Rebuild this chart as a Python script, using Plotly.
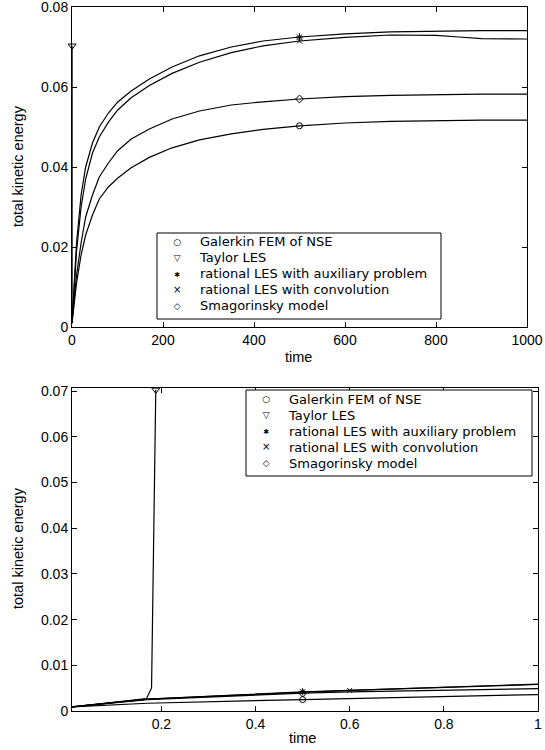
import plotly.graph_objects as go

# ---------------- data: top panel (long time) ----------------
t_top = [0, 5, 10, 20, 30, 45, 60, 80, 100, 130, 170, 220, 280, 350, 420, 500,
         600, 700, 800, 850, 900, 1000]
galerkin_top = [0.001, 0.006, 0.011, 0.018, 0.023, 0.028, 0.0320, 0.0350, 0.0372, 0.0398,
                0.0424, 0.0448, 0.0468, 0.0483, 0.0494, 0.0503, 0.0510, 0.0514, 0.0516,
                0.0517, 0.0517, 0.0517]
smag_top = [0.001, 0.008, 0.013, 0.021, 0.0275, 0.033, 0.0375, 0.0410, 0.0440, 0.0470,
            0.0495, 0.0520, 0.0540, 0.0555, 0.0563, 0.0570, 0.0576, 0.0579, 0.0581,
            0.0582, 0.0582, 0.0582]
rataux_top = [0.001, 0.012, 0.021, 0.033, 0.040, 0.046, 0.050, 0.0535, 0.0562, 0.0590,
              0.0620, 0.0650, 0.0678, 0.0700, 0.0715, 0.0725, 0.0733, 0.0738, 0.0740,
              0.0741, 0.0741, 0.0741]
ratconv_top = [0.001, 0.011, 0.019, 0.030, 0.037, 0.0435, 0.0475, 0.0512, 0.0542, 0.0573,
               0.0604, 0.0634, 0.0662, 0.0686, 0.0703, 0.0715, 0.0724, 0.0730, 0.0729,
               0.0725, 0.0721, 0.0720]
taylor_t = [0, 0.01, 0.168, 0.179, 0.188]
taylor_e = [0.0009, 0.0009, 0.0027, 0.0050, 0.0703]

# marker positions (top)
mk_top_t = 500
mk_top = {"galerkin": 0.0503, "rataux": 0.0725, "ratconv": 0.0715, "smag": 0.0570}

# ---------------- data: bottom panel (short time) ----------------
t_bot = [0.01, 0.17, 0.5, 0.6, 1.0]
galerkin_bot = [0.0009, 0.0017, 0.0025, 0.0027, 0.0036]
smag_bot = [0.0009, 0.0025, 0.0039, 0.0042, 0.0049]
rataux_bot = [0.0009, 0.0026, 0.0042, 0.0045, 0.0059]
ratconv_bot = [0.0009, 0.0026, 0.0041, 0.0045, 0.0058]

top_xticks = [0, 200, 400, 600, 800, 1000]
top_yticks = [0, 0.02, 0.04, 0.06, 0.08]
top_yticklabels = ["0", "0.02", "0.04", "0.06", "0.08"]
bot_xticks = [0.2, 0.4, 0.6, 0.8, 1.0]
bot_xticklabels = ["0.2", "0.4", "0.6", "0.8", "1"]
bot_yticks = [0, 0.01, 0.02, 0.03, 0.04, 0.05, 0.06, 0.07]
bot_yticklabels = ["0", "0.01", "0.02", "0.03", "0.04", "0.05", "0.06", "0.07"]

names = ["Galerkin FEM of NSE", "Taylor LES", "rational LES with auxiliary problem",
         "rational LES with convolution", "Smagorinsky model"]
symbols = ["circle-open", "triangle-down-open", "asterisk-open", "x-thin-open", "diamond-open"]
msizes = [6, 7, 6, 5, 6]
legend_glyphs = ["○", "▽", "✱", "×", "◇"]
legend_glyph_sizes = [9, 9, 7, 10, 9]

FONT = "Liberation Sans, Arial, Helvetica, sans-serif"
LEGEND_FONT = "DejaVu Sans, Liberation Sans, sans-serif"
LINE = dict(color="black", width=1.2)

fig = go.Figure()

# ---- top panel lines
for y in [galerkin_top, rataux_top, ratconv_top, smag_top]:
    fig.add_trace(go.Scatter(x=t_top, y=y, mode="lines", line=LINE, showlegend=False,
                             xaxis="x", yaxis="y"))
fig.add_trace(go.Scatter(x=taylor_t, y=taylor_e, mode="lines", line=LINE, showlegend=False,
                         xaxis="x", yaxis="y"))

top_marks = [
    ([mk_top_t], [mk_top["galerkin"]]),
    ([taylor_t[-1]], [taylor_e[-1]]),
    ([mk_top_t], [mk_top["rataux"]]),
    ([mk_top_t], [mk_top["ratconv"]]),
    ([mk_top_t], [mk_top["smag"]]),
]
for i, (xx, yy) in enumerate(top_marks):
    fig.add_trace(go.Scatter(x=xx, y=yy, mode="markers", name=names[i], showlegend=False,
                             marker=dict(symbol=symbols[i], size=msizes[i], color="black",
                                         line=dict(color="black", width=1)),
                             xaxis="x", yaxis="y", cliponaxis=False))

# ---- bottom panel lines
for y in [galerkin_bot, rataux_bot, ratconv_bot, smag_bot]:
    fig.add_trace(go.Scatter(x=t_bot, y=y, mode="lines", line=LINE, showlegend=False,
                             xaxis="x2", yaxis="y2"))
fig.add_trace(go.Scatter(x=taylor_t[1:], y=taylor_e[1:], mode="lines", line=LINE,
                         showlegend=False, xaxis="x2", yaxis="y2"))

bot_marks = [
    ([t_bot[2]], [galerkin_bot[2]]),
    ([taylor_t[-1]], [taylor_e[-1]]),
    ([t_bot[2]], [rataux_bot[2]]),
    ([t_bot[3]], [ratconv_bot[3]]),
    ([t_bot[2]], [smag_bot[2]]),
]
for i, (xx, yy) in enumerate(bot_marks):
    fig.add_trace(go.Scatter(x=xx, y=yy, mode="markers", name=names[i], showlegend=False,
                             marker=dict(symbol=symbols[i], size=msizes[i], color="black",
                                         line=dict(color="black", width=1)),
                             xaxis="x2", yaxis="y2", cliponaxis=False))

W, H = 545, 750

def ax(**kw):
    base = dict(showline=True, linecolor="black", linewidth=1, mirror="ticks",
                ticks="inside", ticklen=5, tickcolor="black", showgrid=False,
                zeroline=False, automargin=False, ticklabeloverflow="allow",
                tickfont=dict(family=FONT, size=14, color="black"))
    base.update(kw)
    return base

fig.update_layout(
    width=W, height=H, margin=dict(l=0, r=0, t=0, b=0, autoexpand=False),
    paper_bgcolor="white", plot_bgcolor="white", showlegend=False,
    xaxis=ax(domain=[72 / W, 527 / W], range=[0, 1000], tickvals=top_xticks,
             anchor="y"),
    yaxis=ax(domain=[1 - 327 / H, 1 - 7 / H], range=[0, 0.08], tickvals=top_yticks,
             ticktext=top_yticklabels, anchor="x"),
    xaxis2=ax(domain=[72 / W, 538 / W], range=[0.01, 1.0], tickvals=bot_xticks,
              ticktext=bot_xticklabels, anchor="y2"),
    yaxis2=ax(domain=[1 - 711 / H, 1 - 388 / H], range=[0, 0.0707], tickvals=bot_yticks,
              ticktext=bot_yticklabels, anchor="x2"),
)

# ---- hand-drawn legends (box + glyph column + label column), MATLAB style.
PITCH = 16.0
PITCH_FONT = PITCH / 1.3   # plotly puts lines 1.3em apart
LABEL_SIZE = 13

def add_legend(left, top, width=284):
    height = 9.0 + 4 * PITCH + 13.0
    fig.add_shape(type="rect", xref="paper", yref="paper",
                  x0=left / W, x1=(left + width) / W,
                  y0=1 - (top + height) / H, y1=1 - top / H,
                  line=dict(color="black", width=1), fillcolor="white", layer="above")
    mid = top + 9.0 + 2 * PITCH
    glyph_text = "<br>".join(
        f'<span style="font-size:{s}px">{g}</span>'
        for g, s in zip(legend_glyphs, legend_glyph_sizes))
    label_text = "<br>".join(
        f'<span style="font-size:{LABEL_SIZE}px">{n}</span>' for n in names)
    fig.add_annotation(xref="paper", yref="paper", x=(left + 20) / W, y=1 - mid / H,
                       text=glyph_text, showarrow=False, xanchor="center",
                       yanchor="middle", align="center",
                       font=dict(family="DejaVu Sans", size=PITCH_FONT, color="black"))
    fig.add_annotation(xref="paper", yref="paper", x=(left + 40) / W, y=1 - mid / H,
                       text=label_text, showarrow=False, xanchor="left",
                       yanchor="middle", align="left",
                       font=dict(family=LEGEND_FONT, size=PITCH_FONT, color="black"))

add_legend(157, 233)
add_legend(246, 390, width=286)

title_font = dict(family=FONT, size=14.5, color="black")
annots = [
    dict(text="time", x=298 / W, y=1 - 357 / H),
    dict(text="time", x=302 / W, y=1 - 738 / H),
    dict(text="total kinetic energy", x=18 / W, y=1 - 166 / H, textangle=-90),
    dict(text="total kinetic energy", x=18 / W, y=1 - 548 / H, textangle=-90),
]
for a in annots:
    fig.add_annotation(xref="paper", yref="paper", showarrow=False, font=title_font,
                       xanchor="center", yanchor="middle", **a)

# remove the browser's default 8px page margin so the figure fills the window exactly
fig.write_html("out.html",
               config={"displayModeBar": False},
               post_script="document.body.style.margin='0';"
                           "document.body.style.overflow='hidden';")
